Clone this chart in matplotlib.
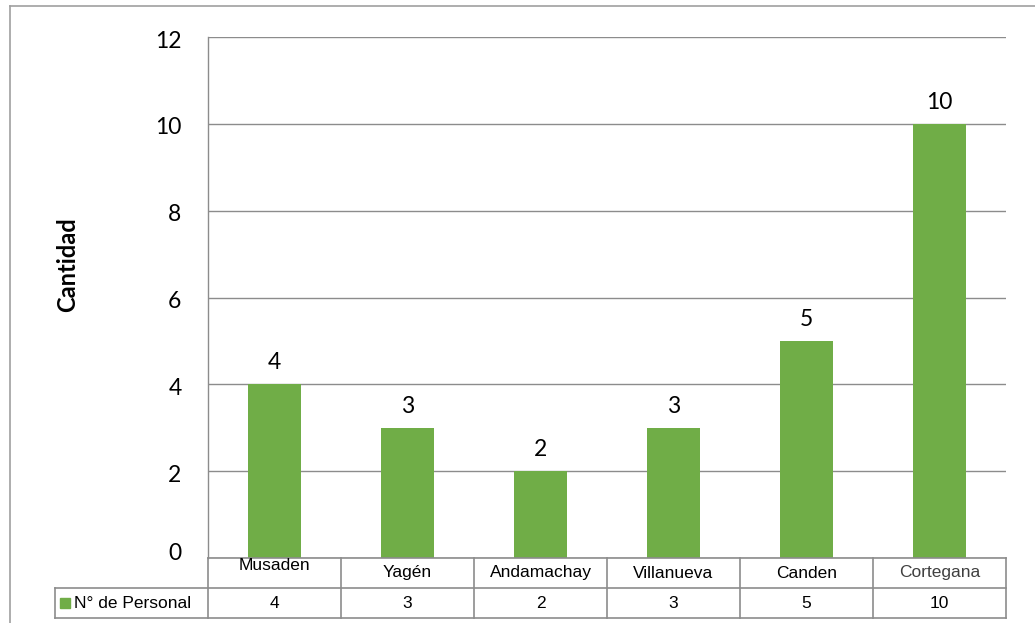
import matplotlib
matplotlib.use("Agg")
import matplotlib.pyplot as plt
from matplotlib.lines import Line2D
from matplotlib.patches import Rectangle
import matplotlib.transforms as mtransforms

categories = ["Musaden", "Yagén", "Andamachay", "Villanueva", "Canden", "Cortegana"]
values = [4, 3, 2, 3, 5, 10]
series_name = "N° de Personal"
y_ticks = [0, 2, 4, 6, 8, 10, 12]
y_label = "Cantidad"

W, H = 1035, 623
fig = plt.figure(figsize=(W / 100, H / 100), dpi=100)

def fx(px):
    return px / W

def fy(py):
    return 1 - py / H

GREEN = "#70AD47"
GRID = "#8c8c8c"
TABLE = "#8c8c8c"

# outer chart frame (cropped at right/bottom)
fig.add_artist(Line2D([fx(10), fx(10)], [fy(6), fy(H + 5)], color="#a0a0a0", lw=1.2))
fig.add_artist(Line2D([fx(10), fx(W + 5)], [fy(6), fy(6)], color="#a0a0a0", lw=1.2))

left, right, top, bottom = 208, 1006, 37, 558
ax = fig.add_axes([fx(left), fy(bottom), fx(right - left), (bottom - top) / H])
x = list(range(len(categories)))
ax.bar(x, values, width=0.4, color=GREEN, zorder=3)
ax.set_xlim(-0.5, len(categories) - 0.5)
ax.set_ylim(0, 12)
ax.set_yticks(y_ticks)
ax.set_yticklabels([str(t) for t in y_ticks], fontsize=16.5, family="Lato")
ax.tick_params(axis="y", length=0, pad=19)
for t, lbl in zip(y_ticks, ax.get_yticklabels()):
    dy = 7 if t == 0 else -2
    lbl.set_transform(lbl.get_transform() + mtransforms.ScaledTranslation(0, dy / 100, fig.dpi_scale_trans))
ax.set_xticks([])
for t in y_ticks:
    ax.axhline(t, color=GRID, lw=1.0, zorder=1)
for s in ["top", "right", "bottom"]:
    ax.spines[s].set_visible(False)
ax.spines["left"].set_color(GRID)
ax.spines["left"].set_linewidth(1.0)

for xi, v in zip(x, values):
    ax.annotate(str(v), (xi, v), xytext=(0, 8), textcoords="offset points",
                ha="center", va="bottom", fontsize=16.5, family="Lato")

fig.text(fx(68), fy(265), y_label, rotation=90, ha="center", va="center",
         fontsize=17, fontweight="bold", family="Lato")

# data table below
trans = mtransforms.blended_transform_factory(ax.transData, fig.transFigure)
row1_top, row1_bot, row2_bot = fy(558), fy(588), fy(618)
n = len(categories)
fig.add_artist(Line2D([fx(left), fx(right)], [row1_top, row1_top], color=TABLE, lw=1.2))
fig.add_artist(Line2D([fx(55), fx(right)], [row1_bot, row1_bot], color=TABLE, lw=1.2))
fig.add_artist(Line2D([fx(55), fx(right)], [row2_bot, row2_bot], color=TABLE, lw=1.2))
fig.add_artist(Line2D([fx(55), fx(55)], [row1_bot, row2_bot], color=TABLE, lw=1.2))
for i in range(n + 1):
    fig.add_artist(Line2D([i - 0.5, i - 0.5], [row1_top, row2_bot], color=TABLE, lw=1.2,
                          transform=trans))
for i, (c, v) in enumerate(zip(categories, values)):
    yoff = 8 if i == 0 else 15
    color = "#404040" if c == "Cortegana" else "black"
    fig.text(i, fy(558 + yoff), c, transform=trans, ha="center", va="center",
             fontsize=12.5, family="Liberation Sans", color=color)
    fig.text(i, fy(603), str(v), transform=trans, ha="center", va="center",
             fontsize=12.5, family="Liberation Sans")
fig.add_artist(Rectangle((fx(60), fy(608)), fx(10), 10 / H, color=GREEN,
                         transform=fig.transFigure))
fig.text(fx(74), fy(603), series_name, ha="left", va="center",
         fontsize=12.5, family="Liberation Sans")

fig.savefig("out.png", dpi=100)
